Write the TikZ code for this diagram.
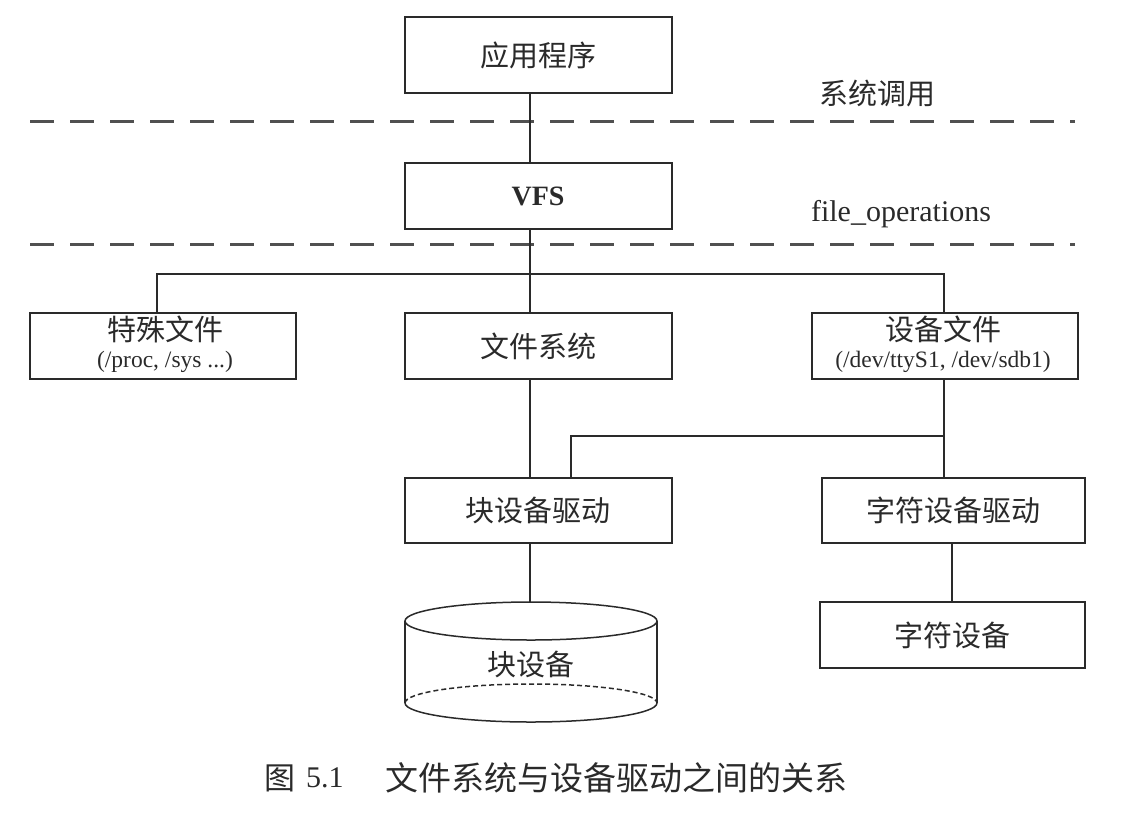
\documentclass[tikz,border=0pt]{standalone}
\usepackage{fontspec}
\setmainfont{Liberation Serif}
\newfontfamily\cjk{Noto Sans CJK SC}
\definecolor{ink}{HTML}{2A2A2A}
\definecolor{dashc}{HTML}{505050}
\begin{document}
\begin{tikzpicture}[x=1pt,y=-1pt,
  box/.style={draw=ink,line width=2pt,minimum width=267pt,minimum height=66pt,inner sep=0pt,font=\fontsize{29}{30}\selectfont\cjk,text=ink},
  conn/.style={draw=ink,line width=1.5pt},
  sep/.style={draw=dashc,line width=3pt,dash pattern=on 24pt off 16pt},
  lbl/.style={font=\fontsize{30}{32}\selectfont,text=ink,inner sep=0pt},
  zh/.style={font=\fontsize{29}{30}\selectfont\cjk,text=ink,inner sep=0pt},
  small/.style={font=\fontsize{23.5}{25}\selectfont,text=ink,inner sep=0pt}]
\useasboundingbox (0,0) rectangle (1134,828);
% boxes
\node[box,minimum height=76pt] (app) at (538,55) {应用程序};
\node[box,font=\fontsize{28}{30}\selectfont\bfseries] (vfs) at (538,196) {VFS};
\node[box,minimum width=266pt] (spec) at (163,346) {};
\node[zh] (spect) at (165,329) {特殊文件};
\node[small] (specs) at (165,362) {(/proc, /sys ...)};
\node[box] (fs) at (538,346) {文件系统};
\node[box,minimum width=266pt] (dev) at (945,346) {};
\node[zh] (devt) at (943,329) {设备文件};
\node[small] (devs) at (943,362) {(/dev/ttyS1, /dev/sdb1)};
\node[box,minimum height=65pt] (blk) at (538,510) {块设备驱动};
\node[box,minimum width=263pt,minimum height=65pt] (chr) at (953,510) {字符设备驱动};
\node[box,minimum width=265pt] (chd) at (952,635) {字符设备};
% labels
\node[zh] (sc) at (877,93) {系统调用};
\node[lbl] (fo) at (901,214) {file\_operations};
% separators
\coordinate (s1l) at (30,121); \coordinate (s1r) at (1075,121);
\coordinate (s2l) at (30,244); \coordinate (s2r) at (1075,244);
\draw[sep] (s1l) -- (s1r);
\draw[sep] (s2l) -- (s2r);
% cylinder
\coordinate (cyl) at (531,602);
\draw[ink,line width=1.5pt] (531,621) ellipse [x radius=126, y radius=19];
\draw[ink,line width=1.5pt] (405,621) -- (405,703);
\draw[ink,line width=1.5pt] (657,621) -- (657,703);
\draw[ink,line width=1.5pt] (405,703) arc[start angle=180,end angle=360,x radius=126,y radius=-19];
\draw[ink,line width=1.5pt,dash pattern=on 5pt off 3pt] (405,703) arc[start angle=180,end angle=0,x radius=126,y radius=-19];
\node[zh] (bdev) at (531,664) {块设备};
% connectors
\coordinate (vx) at (530,0);
\draw[conn] (vx |- app.south) -- (vx |- vfs.north);
\draw[conn] (vx |- vfs.south) -- (vx |- fs.north);
\draw[conn] (157,0 |- spec.north) -- (157,274) -- (944,274) -- (944,0 |- dev.north);
\draw[conn] (vx |- fs.south) -- (vx |- blk.north);
\draw[conn] (944,0 |- dev.south) -- (944,0 |- chr.north);
\draw[conn] (944,436) -- (571,436) -- (571,0 |- blk.north);
\draw[conn] (vx |- blk.south) -- (vx |- cyl);
\draw[conn] (952,0 |- chr.south) -- (952,0 |- chd.north);
% caption
\node[lbl,font=\fontsize{31}{32}\selectfont\cjk,anchor=west] (capa) at (264,778) {图};
\node[lbl,font=\fontsize{30}{32}\selectfont,anchor=west] (capb) at (306,778) {5.1};
\node[lbl,font=\fontsize{33}{34}\selectfont\cjk,anchor=west] (capc) at (385,778) {文件系统与设备驱动之间的关系};
\end{tikzpicture}
\end{document}
